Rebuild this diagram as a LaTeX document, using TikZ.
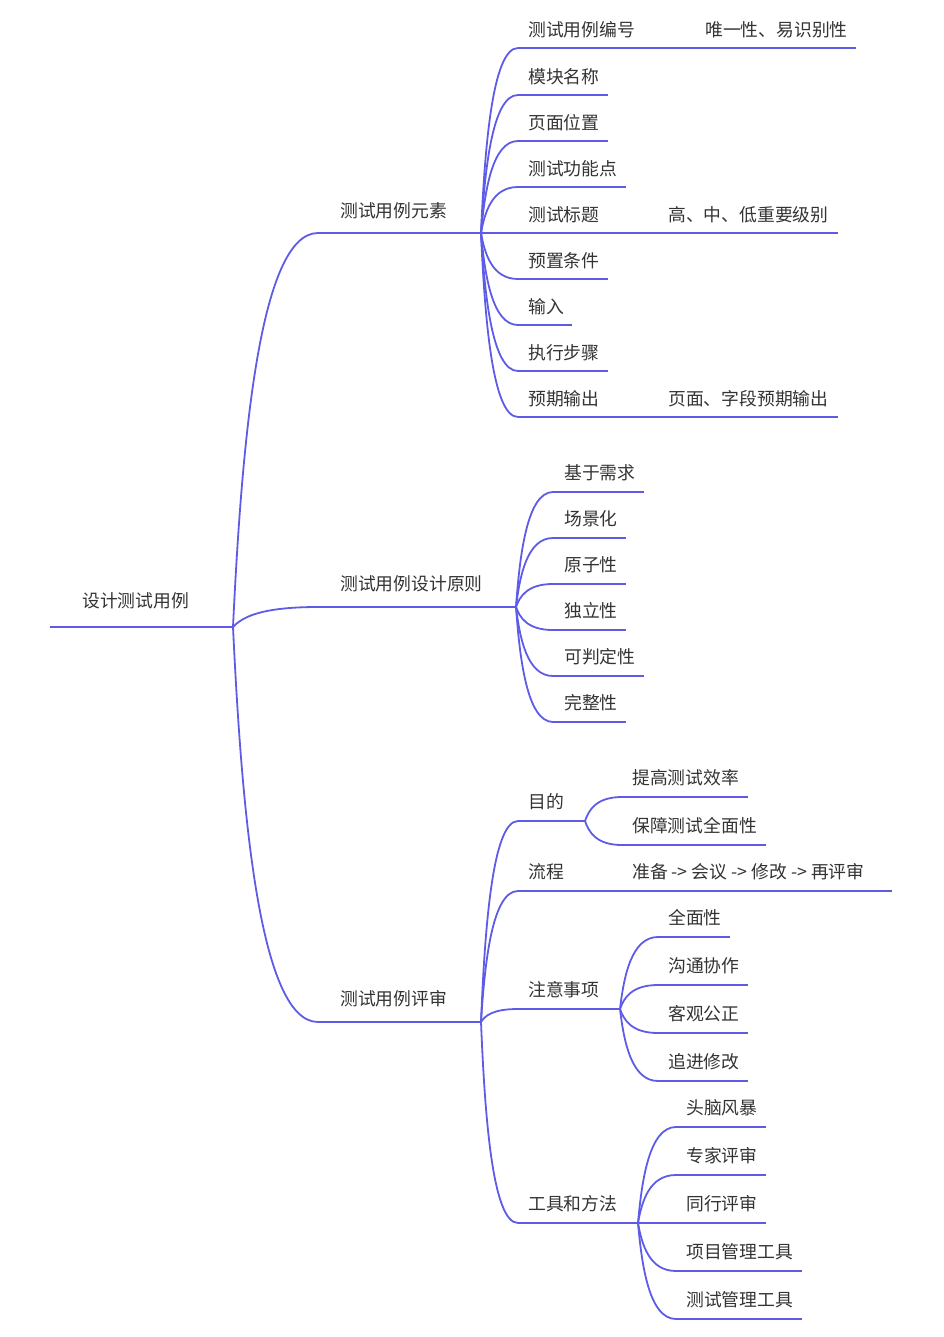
\documentclass[tikz,border=0pt]{standalone}
\usepackage{fontspec}
\setmainfont{Noto Sans CJK SC}
\usetikzlibrary{calc}
\definecolor{lnc}{RGB}{94,92,230}
\definecolor{txc}{RGB}{51,51,51}
\tikzset{
  ln/.style={draw=lnc,line width=1.8pt},
  txt/.style={anchor=west,inner sep=0pt,text=txc,font=\fontsize{17.8}{20}\selectfont}
}
% name, xstart, xend, y, textx, offset, text
\newcommand\topic[7]{%
  \coordinate (#1s) at (#2,#4);
  \coordinate (#1e) at (#3,#4);
  \draw[ln] (#1s) -- (#1e);
  \node[txt] (#1) at (#5,{#4-#6+1}) {#7};}
\newcommand\conn[2]{%
  \draw[ln] let \p1=(#1), \p2=(#2) in (\p1) .. controls ({0.9*(\x1)+0.1*(\x2)},{0.55*(\y1)+0.45*(\y2)}) and ({0.7*(\x1)+0.3*(\x2)},\y2) .. (\p2);}
\begin{document}
\begin{tikzpicture}[x=1pt,y=-1pt]
\useasboundingbox (0,0) rectangle (943,1337);
% root
\topic{r}{50}{233}{627}{82}{27}{设计测试用例}
% level 1
\topic{a}{318}{481}{233}{340}{23}{测试用例元素}
\topic{b}{318}{516}{607}{340}{24}{测试用例设计原则}
\topic{c}{318}{481}{1022}{340}{24}{测试用例评审}
\conn{re}{as}
\conn{re}{bs}
\conn{re}{cs}
% branch a
\topic{a1}{518}{695}{48}{528}{19}{测试用例编号}
\topic{a1x}{695}{856}{48}{705}{19}{唯一性、易识别性}
\topic{a2}{518}{608}{95}{528}{19}{模块名称}
\topic{a3}{518}{608}{141}{528}{19}{页面位置}
\topic{a4}{518}{626}{187}{528}{19}{测试功能点}
\topic{a5}{518}{658}{233}{528}{19}{测试标题}
\topic{a5x}{658}{838}{233}{668}{19}{高、中、低重要级别}
\topic{a6}{518}{608}{279}{528}{19}{预置条件}
\topic{a7}{518}{572}{325}{528}{19}{输入}
\topic{a8}{518}{608}{371}{528}{19}{执行步骤}
\topic{a9}{518}{658}{417}{528}{19}{预期输出}
\topic{a9x}{658}{838}{417}{668}{19}{页面、字段预期输出}
\foreach \i in {1,...,9}{\conn{ae}{a\i s}}
\conn{a1e}{a1xs}
\conn{a5e}{a5xs}
\conn{a9e}{a9xs}
% branch b
\topic{b1}{553}{644}{492}{564}{20}{基于需求}
\topic{b2}{553}{626}{538}{564}{20}{场景化}
\topic{b3}{553}{626}{584}{564}{20}{原子性}
\topic{b4}{553}{626}{630}{564}{20}{独立性}
\topic{b5}{553}{644}{676}{564}{20}{可判定性}
\topic{b6}{553}{626}{722}{564}{20}{完整性}
\foreach \i in {1,...,6}{\conn{be}{b\i s}}
% branch c
\topic{c1}{518}{585}{821}{528}{20}{目的}
\topic{c11}{622}{748}{797}{632}{20}{提高测试效率}
\topic{c12}{622}{766}{845}{632}{20}{保障测试全面性}
\topic{c2}{518}{622}{891}{528}{20}{流程}
\topic{c21}{622}{892}{891}{632}{20}{准备 -> 会议 -> 修改 -> 再评审}
\topic{c3}{518}{620}{1009}{528}{20}{注意事项}
\topic{c31}{658}{730}{937}{668}{20}{全面性}
\topic{c32}{658}{748}{985}{668}{20}{沟通协作}
\topic{c33}{658}{748}{1033}{668}{20}{客观公正}
\topic{c34}{658}{748}{1081}{668}{20}{追进修改}
\topic{c4}{518}{638}{1223}{528}{20}{工具和方法}
\topic{c41}{676}{766}{1127}{686}{20}{头脑风暴}
\topic{c42}{676}{766}{1175}{686}{20}{专家评审}
\topic{c43}{676}{766}{1223}{686}{20}{同行评审}
\topic{c44}{676}{802}{1271}{686}{20}{项目管理工具}
\topic{c45}{676}{802}{1319}{686}{20}{测试管理工具}
\foreach \i in {1,...,4}{\conn{ce}{c\i s}}
\conn{c1e}{c11s}
\conn{c1e}{c12s}
\conn{c2e}{c21s}
\foreach \i in {1,...,4}{\conn{c3e}{c3\i s}}
\foreach \i in {1,...,5}{\conn{c4e}{c4\i s}}
\end{tikzpicture}
\end{document}
